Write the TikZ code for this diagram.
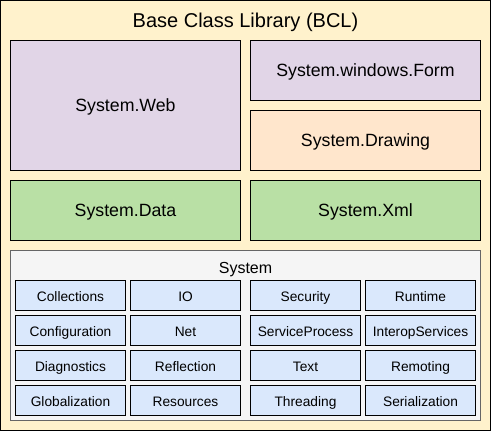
\documentclass[tikz,border=0pt]{standalone}
\usepackage{fontspec}
\setmainfont{Liberation Sans}
\definecolor{bclyellow}{HTML}{FFF2CC}
\definecolor{weblilac}{HTML}{E1D5E7}
\definecolor{drawpeach}{HTML}{FFE6CC}
\definecolor{datagreen}{HTML}{B9E0A5}
\definecolor{sysgray}{HTML}{F5F5F5}
\definecolor{sysline}{HTML}{666666}
\definecolor{nsblue}{HTML}{DAE8FC}
\tikzset{lbl/.style={text height=0.88em,text depth=0pt}}
\begin{document}
\begin{tikzpicture}[x=0.75pt,y=-0.75pt,line width=0.75pt]

        \useasboundingbox (-0.5,-0.5) rectangle (490.5,430.5);

        \node[draw,fill=bclyellow,minimum width=367.5pt,minimum height=322.5pt] (bcl) at (245,215) {};
        \node[lbl,font=\fontsize{15}{18}\selectfont] (title) at (245,21) {Base Class Library (BCL)};

        \begin{scope}[every node/.style={draw,lbl,inner sep=0pt,minimum width=172.5pt,minimum height=45pt,font=\fontsize{13.3}{16}\selectfont}]
          \node[fill=weblilac,minimum height=97.5pt] (web) at (125,105) {System.Web};
          \node[fill=weblilac]  (form)    at (365,70)  {System.windows.Form};
          \node[fill=drawpeach] (drawing) at (365,140) {System.Drawing};
          \node[fill=datagreen] (data)    at (125,210) {System.Data};
          \node[fill=datagreen] (xml)     at (365,210) {System.Xml};
        \end{scope}

        \node[draw=sysline,fill=sysgray,minimum width=352.5pt,minimum height=127.5pt] (system) at (245,335) {};
        \node[lbl,font=\fontsize{12}{14}\selectfont] (syslabel) at (245,267) {System};

        \begin{scope}[every node/.style={draw,lbl,fill=nsblue,inner sep=0pt,minimum width=82.5pt,minimum height=22.5pt,font=\fontsize{10.3}{12}\selectfont}]
          \node (1)  at (70,295)  {Collections};
          \node (2)  at (185,295) {IO};
          \node (3)  at (305,295) {Security};
          \node (4)  at (420,295) {Runtime};
          \node (5)  at (70,330)  {Configuration};
          \node (6)  at (185,330) {Net};
          \node (7)  at (305,330) {ServiceProcess};
          \node (8)  at (420,330) {InteropServices};
          \node (9)  at (70,365)  {Diagnostics};
          \node (10) at (185,365) {Reflection};
          \node (11) at (305,365) {Text};
          \node (12) at (420,365) {Remoting};
          \node (13) at (70,400)  {Globalization};
          \node (14) at (185,400) {Resources};
          \node (15) at (305,400) {Threading};
          \node (16) at (420,400) {Serialization};
        \end{scope}

      \end{tikzpicture}
\end{document}
